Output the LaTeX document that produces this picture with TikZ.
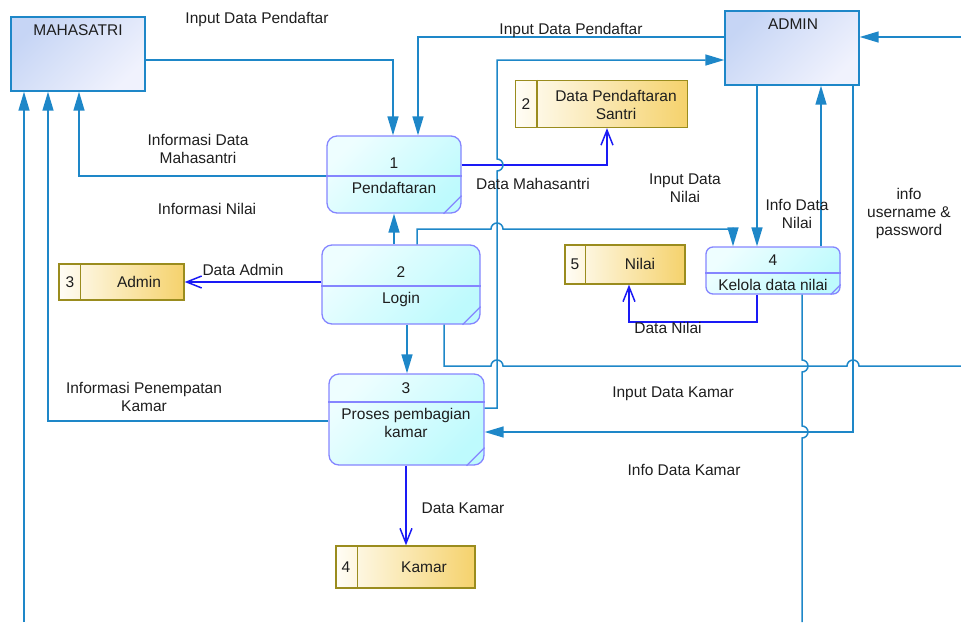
\documentclass[tikz,border=0pt]{standalone}
\usepackage{fontspec}
\setmainfont{Liberation Sans}
\usetikzlibrary{arrows.meta}
\definecolor{flowblue}{HTML}{1E87C8}
\definecolor{storeblue}{HTML}{1A1AF5}
\definecolor{procline}{HTML}{8585FF}
\definecolor{procfillA}{HTML}{EEFEFF}
\definecolor{procfillB}{HTML}{BEFAFD}
\definecolor{entfillA}{HTML}{C6D5F5}
\definecolor{entfillB}{HTML}{F0F2FD}
\definecolor{storeline}{HTML}{9A8C1E}
\definecolor{storefillA}{HTML}{FFFDF6}
\definecolor{storefillB}{HTML}{F5D26C}
\definecolor{txt}{HTML}{1E1E1E}

\begin{document}
\begin{tikzpicture}[x=1pt,y=-1pt,
  font=\fontsize{15.5}{18}\selectfont,
  every node/.style={text=txt},
  entity/.style={draw=flowblue, line width=1.4pt, top color=entfillA, bottom color=entfillB, shading angle=45, inner sep=0pt},
  process/.style={draw=procline, line width=1.3pt, rounded corners=10pt, top color=procfillA, bottom color=procfillB, shading angle=45, inner sep=0pt},
  store/.style={draw=storeline, line width=1.3pt, left color=storefillA, right color=storefillB, inner sep=0pt},
  procsep/.style={draw=procline, line width=1.3pt},
  storesep/.style={draw=storeline, line width=1.3pt},
  flow/.style={draw=flowblue, line width=1.5pt, -{Triangle[length=19pt,width=11pt]}},
  dflow/.style={draw=storeblue, line width=1.5pt, -{Straight Barb[length=15pt,width=12pt]}}]
\useasboundingbox (0,0) rectangle (961,622);

% external entities
\node[entity, minimum width=134pt, minimum height=74pt] (mhs) at (78,54) {};
\node (mhst) at (78,30) {MAHASATRI};
\node[entity, minimum width=134pt, minimum height=74pt] (adm) at (792,48) {};
\node (admt) at (793,24) {ADMIN};

% processes
\node[process, minimum width=134pt, minimum height=77pt] (p1) at (394,174.5) {};
\path[procsep] (p1.west |- 0,176) -- (p1.east |- 0,176);
\path[procsep] ([yshift=18pt]p1.south east) -- ([xshift=-18pt]p1.south east);
\node (p1n) at (394,163) {1};
\node (p1t) at (394,188) {Pendaftaran};

\node[process, minimum width=158pt, minimum height=79pt] (p2) at (401,284.5) {};
\path[procsep] (p2.west |- 0,286) -- (p2.east |- 0,286);
\path[procsep] ([yshift=18pt]p2.south east) -- ([xshift=-18pt]p2.south east);
\node (p2n) at (401,272) {2};
\node (p2t) at (401,299) {Login};

\node[process, minimum width=155pt, minimum height=91pt] (p3) at (406.5,419.5) {};
\path[procsep] (p3.west |- 0,402) -- (p3.east |- 0,402);
\path[procsep] ([yshift=18pt]p3.south east) -- ([xshift=-18pt]p3.south east);
\node (p3n) at (406,388) {3};
\node[align=center] (p3t) at (406,423) {Proses pembagian\\kamar};

\node[process, rounded corners=7pt, minimum width=134pt, minimum height=47pt] (p4) at (773,270.5) {};
\path[procsep] (p4.west |- 0,273) -- (p4.east |- 0,273);
\path[procsep] ([yshift=10pt]p4.south east) -- ([xshift=-10pt]p4.south east);
\node (p4n) at (773,260) {4};
\node (p4t) at (773,285) {Kelola data nilai};

% data stores
\node[store, minimum width=172pt, minimum height=47pt] (d2) at (601.5,104) {};
\path[storesep] ([xshift=22pt]d2.north west) -- ([xshift=22pt]d2.south west);
\node (d2n) at (526,104) {2};
\node[align=center] (d2t) at (616,105) {Data Pendaftaran\\Santri};

\node[store, minimum width=125pt, minimum height=36pt] (d3) at (121.5,282) {};
\path[storesep] ([xshift=22pt]d3.north west) -- ([xshift=22pt]d3.south west);
\node (d3n) at (70,282) {3};
\node (d3t) at (139,282) {Admin};

\node[store, minimum width=120pt, minimum height=39pt] (d5) at (625,264.5) {};
\path[storesep] ([xshift=21pt]d5.north west) -- ([xshift=21pt]d5.south west);
\node (d5n) at (575,264) {5};
\node (d5t) at (640,264) {Nilai};

\node[store, minimum width=139pt, minimum height=42pt] (d4) at (405.5,567) {};
\path[storesep] ([xshift=22pt]d4.north west) -- ([xshift=22pt]d4.south west);
\node (d4n) at (346,567) {4};
\node (d4t) at (424,567) {Kamar};

% free ends at the picture edges
\coordinate (rin) at (961,37);
\coordinate (rout) at (961,366);
\coordinate (bout) at (802,622);
\coordinate (bin) at (24,622);

% flows
\draw[flow] (mhs.east |- 0,60) -| (p1.north -| 393,0);
\draw[flow] (adm.west |- 0,37) -| (p1.north -| 418,0);
\draw[flow] (p1.west |- 0,176) -| (mhs.south -| 79,0);
\draw[dflow] (p1.east |- 0,165) -| (d2.south -| 607,0);
\draw[flow] (p2.north -| 394,0) -- (p1.south -| 394,0);
\draw[dflow] (p2.west |- 0,282) -- (d3.east);
\draw[flow] (p2.south -| 407,0) -- (p3.north -| 407,0);
\draw[flow] (p2.north -| 417,0) -- (417,229) -- (491,229) arc[start angle=180,end angle=0,radius=6pt] -- (733,229) -- (p4.north -| 733,0);
\draw[flow] (adm.south -| 757,0) -- (p4.north -| 757,0);
\draw[flow] (p4.north -| 821,0) -- (adm.south -| 821,0);
\draw[dflow] (p4.south -| 757,0) -- (757,322) -| (d5.south -| 629,0);
\draw[flow,-] (p2.south -| 444,0) -- (444,366) -- (491,366) arc[start angle=180,end angle=0,radius=6pt] -- (847,366) arc[start angle=180,end angle=0,radius=6pt] -- (rout);
\draw[flow] (p3.east |- 0,408) -- (497,408) -- (497,171) arc[start angle=-90,end angle=90,radius=6pt] -- (497,60) -- (adm.west |- 0,60);
\draw[flow] (adm.south -| 853,0) -- (853,432) -- (p3.east |- 0,432);
\draw[flow,-] (p4.south -| 802,0) -- (802,360) arc[start angle=90,end angle=-90,radius=6pt] -- (802,426) arc[start angle=90,end angle=-90,radius=6pt] -- (bout);
\draw[flow] (bin) -- (mhs.south -| 24,0);
\draw[flow] (p3.west |- 0,421) -| (mhs.south -| 48,0);
\draw[flow] (rin) -- (adm.east |- 0,37);
\draw[dflow] (p3.south -| 406,0) -- (d4.north -| 406,0);

% flow labels
\node (lb1) at (257,19) {Input Data Pendaftar};
\node (lb2) at (571,30) {Input Data Pendaftar};
\node[align=center] (lb3) at (198,149) {Informasi Data\\Mahasantri};
\node (lb4) at (207,209) {Informasi Nilai};
\node (lb5) at (533,184) {Data Mahasantri};
\node[align=center] (lb6) at (685,188) {Input Data\\Nilai};
\node[align=center] (lb7) at (797,214) {Info Data\\Nilai};
\node[align=center] (lb8) at (909,213) {info\\username \&\\password};
\node (lb9) at (243,270) {Data Admin};
\node (lb10) at (668,328) {Data Nilai};
\node[align=center] (lb11) at (144,397) {Informasi Penempatan\\Kamar};
\node (lb12) at (673,394) {Input Data Kamar};
\node (lb13) at (684,470) {Info Data Kamar};
\node (lb14) at (463,508) {Data Kamar};
\end{tikzpicture}
\end{document}
